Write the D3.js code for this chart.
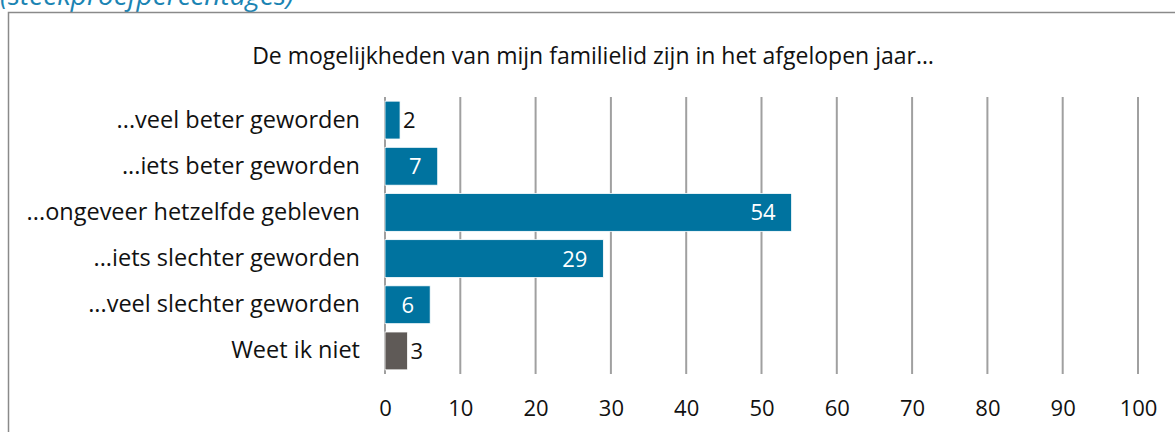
<!DOCTYPE html>
<html>
<head>
<meta charset="utf-8">
<script src="https://cdn.jsdelivr.net/npm/d3@7"></script>
<style>
  body { margin: 0; background: #fff; }
  svg text { font-family: "Open Sans", sans-serif; }
</style>
</head>
<body>
<div id="vis"></div>
<script>
// data
const categories = [
  '...veel beter geworden',
  '...iets beter geworden',
  '...ongeveer hetzelfde gebleven',
  '...iets slechter geworden',
  '...veel slechter geworden',
  'Weet ik niet'
]
const values = [2, 7, 54, 29, 6, 3]
const tickValues = [0, 10, 20, 30, 40, 50, 60, 70, 80, 90, 100]

const subtitle = '(steekproefpercentages)'
const title = 'De mogelijkheden van mijn familielid zijn in het afgelopen jaar…'

const width = 1175
const height = 432
const margin = { left: 385, right: 37, top: 97, bottom: 58 }

const blue = '#00739f'
const grey = '#5f5a57'

let svg = d3.select('#vis')
  .append('svg')
  .attr('width', width)
  .attr('height', height)

// subtitle is cut off by the top of the picture
svg.append('text')
  .attr('x', 0)
  .attr('y', 5)
  .attr('fill', '#1b84b3')
  .attr('font-style', 'italic')
  .attr('font-size', 28)
  .text(subtitle)

// outer box (runs off to the right and bottom)
svg.append('rect')
  .attr('x', 8.5)
  .attr('y', 12.5)
  .attr('width', 1200)
  .attr('height', 500)
  .attr('fill', 'none')
  .attr('stroke', '#8a8a8a')
  .attr('stroke-width', 1.5)

svg.append('text')
  .attr('x', 593)
  .attr('y', 64)
  .attr('text-anchor', 'middle')
  .attr('font-size', 23)
  .attr('fill', '#111')
  .text(title)

const xScale = d3.scaleLinear()
  .domain([0, 100])
  .range([margin.left, width - margin.right])

const yScale = d3.scaleBand()
  .domain(categories)
  .range([margin.top, height - margin.bottom])
  .paddingInner(0.18)
  .paddingOuter(0.09)

// gridlines
svg.selectAll('.grid')
  .data(tickValues)
  .enter()
  .append('line')
  .attr('class', 'grid')
  .attr('x1', d => xScale(d))
  .attr('x2', d => xScale(d))
  .attr('y1', margin.top)
  .attr('y2', height - margin.bottom)
  .attr('stroke', '#a0a0a0')
  .attr('stroke-width', 2)

// x axis labels
const xAxis = d3.axisBottom(xScale)
  .tickValues(tickValues)
  .tickSize(0)
  .tickPadding(0)

svg.append('g')
  .attr('transform', `translate(0, ${height - margin.bottom + 26})`)
  .call(xAxis)
  .call(g => g.select('.domain').remove())
  .selectAll('text')
  .attr('font-size', 22)
  .attr('font-family', '"Open Sans", sans-serif')
  .attr('fill', '#111')

// category labels
const yAxis = d3.axisLeft(yScale).tickSize(0).tickPadding(25)

svg.append('g')
  .attr('transform', `translate(${margin.left}, 0)`)
  .call(yAxis)
  .call(g => g.select('.domain').remove())
  .selectAll('text')
  .attr('font-size', 23.5)
  .attr('font-family', '"Open Sans", sans-serif')
  .attr('fill', '#111')

const data = categories.map((c, i) => ({ cat: c, value: values[i] }))

svg.selectAll('.bar')
  .data(data)
  .enter()
  .append('rect')
  .attr('class', 'bar')
  .attr('x', xScale(0))
  .attr('y', d => yScale(d.cat))
  .attr('width', d => xScale(d.value) - xScale(0))
  .attr('height', yScale.bandwidth())
  .attr('fill', d => d.cat === 'Weet ik niet' ? grey : blue)
  .attr('stroke', '#fff')
  .attr('stroke-width', 0.8)

// value labels: inside end for wide bars, just outside for the small ones
svg.selectAll('.val')
  .data(data)
  .enter()
  .append('text')
  .attr('class', 'val')
  .attr('x', d => d.value >= 5 ? xScale(d.value) - 16 : xScale(d.value) + 3)
  .attr('y', d => yScale(d.cat) + yScale.bandwidth() / 2)
  .attr('dy', '0.36em')
  .attr('text-anchor', d => d.value >= 5 ? 'end' : 'start')
  .attr('font-size', 22)
  .attr('fill', d => d.value >= 5 ? '#fff' : '#111')
  .text(d => d.value)
</script>
</body>
</html>
